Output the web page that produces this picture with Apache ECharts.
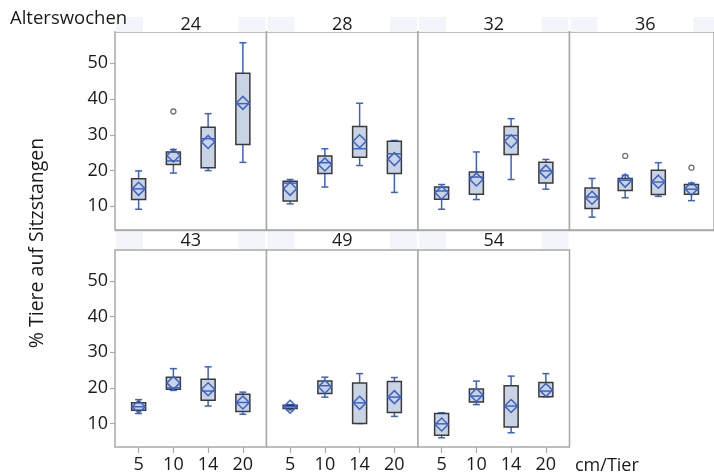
<!DOCTYPE html>
<html>
<head>
<meta charset="utf-8">
<script src="https://cdn.jsdelivr.net/npm/echarts@6/dist/echarts.min.js"></script>
<style>
  html, body { margin: 0; padding: 0; background: #fff; }
  #chart { width: 714px; height: 475px; }
</style>
</head>
<body>
<div id="chart"></div>
<script>
// Space per hen (cm/Tier) on the x axis of every panel
const spacings = ['5', '10', '14', '20'];
// Age in weeks, one panel each
const ages = ['24', '28', '32', '36', '43', '49', '54'];
// Tick values of the percentage axis
const yTicks = [10, 20, 30, 40, 50];

// Box summaries per age: [lower whisker, Q1, median, Q3, upper whisker] for 5, 10, 14, 20 cm
const week24 = [[9.2, 11.9, 14.9, 17.7, 19.9], [19.3, 21.7, 22.7, 25.2, 25.9], [20.0, 20.8, 28.9, 32.1, 35.9], [22.3, 27.3, 38.7, 47.2, 55.7]];
const week28 = [[10.7, 11.5, 16.5, 17.0, 17.5], [15.4, 19.2, 22.2, 24.1, 26.1], [21.4, 23.7, 26.1, 32.3, 38.8], [13.9, 19.2, 24.7, 28.2, 28.4]];
const week32 = [[9.2, 12.0, 14.3, 15.4, 16.1], [11.9, 13.4, 18.2, 19.6, 25.2], [17.5, 24.5, 29.8, 32.3, 34.5], [14.8, 16.5, 19.9, 22.3, 23.1]];
const week36 = [[7.0, 9.4, 12.6, 15.1, 17.8], [12.4, 14.4, 17.3, 17.8, 18.7], [12.8, 13.3, 16.8, 20.1, 22.2], [11.6, 13.4, 14.8, 16.1, 16.5]];
const week43 = [[12.8, 13.7, 14.7, 15.8, 16.7], [19.3, 19.6, 20.0, 23.0, 25.4], [14.9, 16.5, 19.1, 22.4, 25.9], [12.6, 13.4, 15.9, 18.2, 18.8]];
const week49 = [[13.8, 14.2, 14.7, 15.1, 15.3], [17.4, 18.4, 20.6, 21.9, 23.0], [10.0, 10.0, 15.8, 21.4, 24.0], [12.0, 13.1, 17.4, 21.8, 22.9]];
const week54 = [[6.0, 6.7, 9.9, 12.8, 13.0], [15.3, 16.0, 17.7, 19.7, 21.9], [7.4, 9.0, 14.9, 20.6, 23.3], [17.5, 17.5, 19.1, 21.5, 24.0]];

// Group means (diamonds), same order as the spacings
const mean24 = [14.9, 24.2, 28.0, 38.9];
const mean28 = [14.9, 21.7, 28.2, 23.2];
const mean32 = [13.8, 17.5, 28.2, 19.7];
const mean36 = [12.4, 17.2, 16.9, 14.9];
const mean43 = [14.7, 21.4, 19.6, 15.9];
const mean49 = [14.7, 20.3, 15.8, 17.4];
const mean54 = [9.7, 18.0, 14.9, 19.4];

// Single outlying observations
const outlierAge = ['24', '36', '36'];
const outlierSpacing = ['10', '10', '20'];
const outlierValue = [36.5, 24.1, 20.8];

const boxSets = [week24, week28, week32, week36, week43, week49, week54];
const meanSets = [mean24, mean28, mean32, mean36, mean43, mean49, mean54];

const FONT = '"Open Sans", "Noto Sans", sans-serif';
const BLUE = '#3d62c6';
const BOX_FILL = '#c8d3e4';
const BOX_EDGE = '#3a3a3a';
const FRAME = '#a9a9a9';
const TEXT = '#1a1a1a';

// Panel layout: 4 columns on the top row, 3 on the bottom row
const colLeft = [115, 266.5, 418, 569.5];
const colWidth = 151.5;
const rowTop = [32, 250];
const rowHeight = [198, 197];
const headTop = [17, 232];
const headHeight = [15, 17];

function panelPos(i) {
  const row = i < 4 ? 0 : 1;
  const col = i < 4 ? i : i - 4;
  return { row, col };
}

function renderBox(params, api) {
  const x = api.value(0);
  const lo = api.coord([x, api.value(1)]);
  const q1 = api.coord([x, api.value(2)]);
  const md = api.coord([x, api.value(3)]);
  const q3 = api.coord([x, api.value(4)]);
  const hi = api.coord([x, api.value(5)]);
  const mn = api.coord([x, api.value(6)]);
  const cx = lo[0];
  const hw = 7, cw = 3.5, dw = 6.5;
  const line = (x1, y1, x2, y2, color, w) => ({
    type: 'line',
    shape: { x1, y1, x2, y2 },
    style: { stroke: color, lineWidth: w }
  });
  return {
    type: 'group',
    children: [
      line(cx, hi[1], cx, q3[1], BLUE, 1.5),
      line(cx, q1[1], cx, lo[1], BLUE, 1.5),
      line(cx - cw, hi[1], cx + cw, hi[1], BLUE, 1.5),
      line(cx - cw, lo[1], cx + cw, lo[1], BLUE, 1.5),
      {
        type: 'rect',
        shape: { x: cx - hw, y: q3[1], width: hw * 2, height: Math.max(q1[1] - q3[1], 1) },
        style: { fill: BOX_FILL, stroke: BOX_EDGE, lineWidth: 1.5 }
      },
      line(cx - hw, md[1], cx + hw, md[1], BLUE, 1.5),
      {
        type: 'polygon',
        shape: { points: [[cx, mn[1] - dw], [cx + dw, mn[1]], [cx, mn[1] + dw], [cx - dw, mn[1]]] },
        style: { fill: 'none', stroke: BLUE, lineWidth: 1.5 }
      }
    ]
  };
}

const grids = [], xAxes = [], yAxes = [], series = [], graphics = [];

ages.forEach((age, i) => {
  const { row, col } = panelPos(i);
  const bottomRow = row === 1;
  grids.push({
    left: colLeft[col], top: rowTop[row], width: colWidth, height: rowHeight[row],
    show: true, borderColor: FRAME, borderWidth: 1.5, backgroundColor: '#fff'
  });
  xAxes.push({
    type: 'value', gridIndex: i, min: -0.68, max: 3.68, position: 'bottom',
    axisLine: { show: false, onZero: false },
    splitLine: { show: false },
    axisTick: { show: bottomRow, customValues: [0, 1, 2, 3], length: 6, lineStyle: { color: FRAME, width: 1.2 } },
    axisLabel: {
      show: bottomRow, customValues: [0, 1, 2, 3], margin: 9,
      formatter: v => spacings[Math.round(v)],
      fontSize: 18, fontFamily: FONT, color: TEXT
    }
  });
  yAxes.push({
    type: 'value', gridIndex: i, min: 3.4, max: 58.7, position: 'left',
    axisLine: { show: false, onZero: false },
    splitLine: { show: false },
    axisTick: { show: col === 0, customValues: yTicks, length: 5, lineStyle: { color: FRAME, width: 1.2 } },
    axisLabel: {
      show: col === 0, customValues: yTicks, margin: 7,
      fontSize: 18, fontFamily: FONT, color: TEXT
    }
  });
  const data = boxSets[i].map((b, k) => [k, b[0], b[1], b[2], b[3], b[4], meanSets[i][k]]);
  series.push({
    type: 'custom', xAxisIndex: i, yAxisIndex: i,
    encode: { x: 0, y: [1, 2, 3, 4, 5, 6] },
    renderItem: renderBox, data, silent: true
  });
  const outs = [];
  outlierAge.forEach((a, k) => {
    if (a === age) outs.push([spacings.indexOf(outlierSpacing[k]), outlierValue[k]]);
  });
  if (outs.length) {
    series.push({
      type: 'scatter', xAxisIndex: i, yAxisIndex: i, data: outs,
      symbol: 'circle', symbolSize: 5, silent: true,
      itemStyle: { color: '#fff', borderColor: '#505050', borderWidth: 1.3 }
    });
  }
  // Panel header strip with the age
  const hx = colLeft[col], hy = headTop[row], hh = headHeight[row];
  graphics.push({ type: 'rect', shape: { x: hx + 1, y: hy, width: colWidth - 2, height: hh }, style: { fill: '#f3f5fa' }, z: 1 });
  graphics.push({ type: 'rect', shape: { x: hx + 28, y: hy, width: colWidth - 56, height: hh }, style: { fill: '#ffffff' }, z: 1 });
  graphics.push({
    type: 'text', x: hx + colWidth / 2, y: hy + hh / 2 + 0.5, z: 2,
    style: { text: age, fontSize: 18, fontFamily: FONT, fill: TEXT, align: 'center', verticalAlign: 'middle' }
  });
});

graphics.push({
  type: 'text', x: 10, y: 19, z: 2,
  style: { text: 'Alterswochen', fontSize: 18.5, fontFamily: FONT, fill: TEXT, align: 'left', verticalAlign: 'middle' }
});
graphics.push({
  type: 'text', x: 37, y: 243, rotation: Math.PI / 2, z: 2,
  style: { text: '% Tiere auf Sitzstangen', fontSize: 19.5, fontFamily: FONT, fill: TEXT, align: 'center', verticalAlign: 'middle' }
});
graphics.push({
  type: 'text', x: 575, y: 466, z: 2,
  style: { text: 'cm/Tier', fontSize: 18, fontFamily: FONT, fill: TEXT, align: 'left', verticalAlign: 'middle' }
});
// Separator line between the two panel rows
graphics.push({
  type: 'line', shape: { x1: 115, y1: 230.5, x2: 714, y2: 230.5 }, style: { stroke: FRAME, lineWidth: 1.5 }, z: 1
});

const chart = echarts.init(document.getElementById('chart'), null, { renderer: 'canvas' });
chart.setOption({
  animation: false,
  backgroundColor: '#fff',
  grid: grids,
  xAxis: xAxes,
  yAxis: yAxes,
  series,
  graphic: graphics
});
</script>
</body>
</html>
